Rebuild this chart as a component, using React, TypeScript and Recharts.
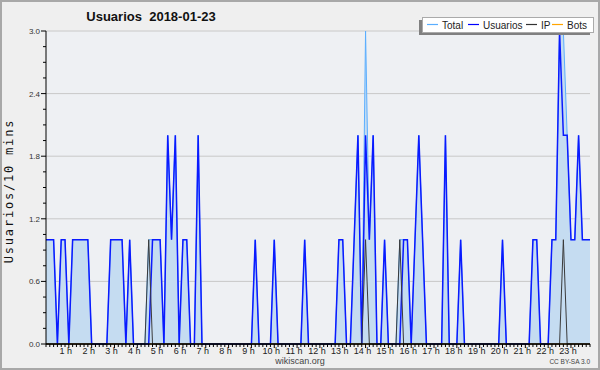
import React from 'react';
import { ComposedChart, Area, Line, XAxis, YAxis, CartesianGrid, ReferenceLine } from 'recharts';

// one value every 10 minutes, 2018-01-23 (12 slots = 2 hours per row)
const USERS = [
  1, 1, 1, 0, 1, 1, 0, 1, 1, 1, 1, 1,
  0, 0, 0, 0, 0, 1, 1, 1, 1, 0, 1, 0,
  0, 0, 0, 0, 1, 1, 1, 0, 2, 1, 2, 0,
  1, 1, 0, 0, 2, 0, 0, 0, 0, 0, 0, 0,
  0, 0, 0, 0, 0, 0, 0, 1, 0, 0, 0, 0,
  1, 0, 0, 0, 0, 0, 0, 0, 1, 0, 0, 0,
  0, 0, 0, 0, 0, 1, 1, 0, 0, 1, 2, 0,
  2, 1, 2, 0, 0, 1, 0, 0, 0, 0, 1, 1,
  0, 1, 2, 1, 0, 0, 0, 0, 0, 2, 0, 0,
  0, 1, 0, 0, 0, 0, 0, 0, 0, 0, 0, 0,
  1, 0, 0, 0, 0, 0, 0, 0, 1, 1, 0, 0,
  0, 1, 1, 3, 2, 2, 1, 1, 2, 1, 1, 1,
];

const IP = [
  0, 0, 0, 0, 0, 0, 0, 0, 0, 0, 0, 0,
  0, 0, 0, 0, 0, 0, 0, 0, 0, 0, 0, 0,
  0, 0, 0, 1, 0, 0, 0, 0, 0, 0, 0, 0,
  0, 0, 0, 0, 0, 0, 0, 0, 0, 0, 0, 0,
  0, 0, 0, 0, 0, 0, 0, 0, 0, 0, 0, 0,
  0, 0, 0, 0, 0, 0, 0, 0, 0, 0, 0, 0,
  0, 0, 0, 0, 0, 0, 0, 0, 0, 0, 0, 0,
  1, 0, 0, 0, 0, 0, 0, 0, 0, 1, 0, 0,
  0, 0, 0, 0, 0, 0, 0, 0, 0, 0, 0, 0,
  0, 0, 0, 0, 0, 0, 0, 0, 0, 0, 0, 0,
  0, 0, 0, 0, 0, 0, 0, 0, 0, 0, 0, 0,
  0, 0, 0, 0, 1, 0, 0, 0, 0, 0, 0, 0,
];

const BOTS = [
  0, 0, 0, 0, 0, 0, 0, 0, 0, 0, 0, 0,
  0, 0, 0, 0, 0, 0, 0, 0, 0, 0, 0, 0,
  0, 0, 0, 0, 0, 0, 0, 0, 0, 0, 0, 0,
  0, 0, 0, 0, 0, 0, 0, 0, 0, 0, 0, 0,
  0, 0, 0, 0, 0, 0, 0, 0, 0, 0, 0, 0,
  0, 0, 0, 0, 0, 0, 0, 0, 0, 0, 0, 0,
  0, 0, 0, 0, 0, 0, 0, 0, 0, 0, 0, 0,
  0, 0, 0, 0, 0, 0, 0, 0, 0, 0, 0, 0,
  0, 0, 0, 0, 0, 0, 0, 0, 0, 0, 0, 0,
  0, 0, 0, 0, 0, 0, 0, 0, 0, 0, 0, 0,
  0, 0, 0, 0, 0, 0, 0, 0, 0, 0, 0, 0,
  0, 0, 0, 0, 0, 0, 0, 0, 0, 0, 0, 0,
];

const TOTAL = [
  1, 1, 1, 0, 1, 1, 0, 1, 1, 1, 1, 1,
  0, 0, 0, 0, 0, 1, 1, 1, 1, 0, 1, 0,
  0, 0, 0, 1, 1, 1, 1, 0, 2, 1, 2, 0,
  1, 1, 0, 0, 2, 0, 0, 0, 0, 0, 0, 0,
  0, 0, 0, 0, 0, 0, 0, 1, 0, 0, 0, 0,
  1, 0, 0, 0, 0, 0, 0, 0, 1, 0, 0, 0,
  0, 0, 0, 0, 0, 1, 1, 0, 0, 1, 2, 0,
  3, 1, 2, 0, 0, 1, 0, 0, 0, 1, 1, 1,
  0, 1, 2, 1, 0, 0, 0, 0, 0, 2, 0, 0,
  0, 1, 0, 0, 0, 0, 0, 0, 0, 0, 0, 0,
  1, 0, 0, 0, 0, 0, 0, 0, 1, 1, 0, 0,
  0, 1, 1, 3, 3, 2, 1, 1, 2, 1, 1, 1,
];

const HOUR_LABELS = [
  '1 h', '2 h', '3 h', '4 h', '5 h', '6 h', '7 h', '8 h', '9 h', '10 h', '11 h', '12 h',
  '13 h', '14 h', '15 h', '16 h', '17 h', '18 h', '19 h', '20 h', '21 h', '22 h', '23 h',
];

const Y_TICKS = [0, 0.15, 0.3, 0.45, 0.6, 0.75, 0.9, 1.05, 1.2, 1.35, 1.5, 1.65, 1.8, 1.95, 2.1, 2.25, 2.4, 2.55, 2.7, 2.85, 3.0];
const Y_LABELED = [0, 0.6, 1.2, 1.8, 2.4, 3.0];

const FONT = '"Liberation Sans", Arial, sans-serif';

const data = USERS.map((u, i) => ({
  slot: i,
  users: u,
  ip: IP[i],
  bots: BOTS[i],
  total: TOTAL[i],
}));
const slots = data.map(d => d.slot);

const XTick = (props: any) => {
  const { x, y, payload } = props;
  const v = payload.value;
  const hour = v > 0 && v % 6 === 0;
  const label = hour ? HOUR_LABELS[v / 6 - 1] : null;
  return (
    <g>
      <line x1={x} x2={x} y1={y} y2={y + (hour ? 4 : 3)} stroke="#000" strokeWidth={1} />
      {label && (
        <text x={x - 3} y={y + 10} textAnchor="middle" fontSize={9} fill="#222" fontFamily={FONT}>
          {label}
        </text>
      )}
    </g>
  );
};

const YTick = (props: any) => {
  const { x, y, payload } = props;
  const v = payload.value;
  const major = Y_LABELED.some(t => Math.abs(t - v) < 1e-6);
  return (
    <g>
      <line x1={x - (major ? 5 : 3)} x2={x} y1={y} y2={y} stroke="#000" strokeWidth={1} />
      {major && (
        <text x={x - 6} y={y + 3} textAnchor="end" fontSize={8} fill="#333" fontFamily={FONT}>
          {v.toFixed(1)}
        </text>
      )}
    </g>
  );
};

const LEGEND = [
  { name: 'Total', color: '#5aaeff', x: 427 },
  { name: 'Usuarios', color: '#0000ff', x: 468 },
  { name: 'IP', color: '#333333', x: 526 },
  { name: 'Bots', color: '#ffa500', x: 552 },
];

export default function App() {
  return (
    <div style={{ position: 'absolute', left: 0, top: 0, width: 600, height: 370, background: '#efefef' }}>
      <ComposedChart width={600} height={370} data={data} margin={{ top: 31, right: 10, bottom: 0, left: 0 }}>
        <CartesianGrid
          vertical={false}
          horizontalValues={[0.6, 1.2, 1.8, 2.4, 3.0]}
          stroke="#c8c8c8"
          fill="#eef0f3"
          fillOpacity={1}
        />
        <XAxis
          dataKey="slot"
          type="number"
          domain={[0, 143]}
          ticks={slots}
          interval={0}
          height={26}
          tickSize={0}
          tickMargin={0}
          tickLine={false}
          tick={<XTick />}
          axisLine={{ stroke: '#000' }}
        />
        <YAxis
          type="number"
          domain={[0, 3]}
          ticks={Y_TICKS}
          interval={0}
          width={46}
          tickSize={0}
          tickMargin={0}
          tickLine={false}
          tick={<YTick />}
          axisLine={{ stroke: '#000' }}
        />
        <Area
          type="linear"
          dataKey="total"
          stroke="#5aaeff"
          strokeWidth={1}
          fill="#c5dcf1"
          fillOpacity={1}
          dot={false}
          activeDot={false}
          isAnimationActive={false}
        />
        <Line type="linear" dataKey="bots" stroke="#ffa500" strokeWidth={1} dot={false} activeDot={false} isAnimationActive={false} />
        <Line type="linear" dataKey="users" stroke="#0a1aff" strokeWidth={1.5} dot={false} activeDot={false} isAnimationActive={false} />
        <Line type="linear" dataKey="ip" stroke="#3a3a3a" strokeWidth={1} dot={false} activeDot={false} isAnimationActive={false} />
        <ReferenceLine y={0} stroke="#000" strokeWidth={1} />
      </ComposedChart>
      <svg width={600} height={370} style={{ position: 'absolute', left: 0, top: 0, pointerEvents: 'none' }}>
        <text x={151} y={21} textAnchor="middle" fontSize={13} fontWeight="bold" fill="#111" fontFamily={FONT}>
          {'Usuarios\u00a0\u00a02018-01-23'}
        </text>
        <text
          transform="translate(13,191) rotate(-90)"
          textAnchor="middle"
          fontSize={12}
          letterSpacing={1.8}
          fill="#111"
          fontFamily='"DejaVu Sans Mono", monospace'
        >
          Usuarios/10 mins
        </text>
        <rect x={419} y={20} width={171} height={15} fill="#808080" />
        <rect x={422.5} y={17.5} width={171} height={15} fill="#fff" stroke="#aaa" strokeWidth={1} />
        {LEGEND.map(item => (
          <g key={item.name}>
            <line x1={item.x} x2={item.x + 11} y1={24.5} y2={24.5} stroke={item.color} strokeWidth={1.2} />
            <text x={item.x + 15} y={28.5} fontSize={10} fill="#222" fontFamily={FONT}>
              {item.name}
            </text>
          </g>
        ))}
        <text x={300} y={364} textAnchor="middle" fontSize={9} fill="#444" fontFamily={FONT}>
          wikiscan.org
        </text>
        <text x={590} y={364} textAnchor="end" fontSize={6.5} fill="#444" fontFamily={FONT}>
          CC BY-SA 3.0
        </text>
        <rect x={1} y={1} width={598} height={368} fill="none" stroke="#a8a8a8" strokeWidth={2} />
      </svg>
    </div>
  );
}
